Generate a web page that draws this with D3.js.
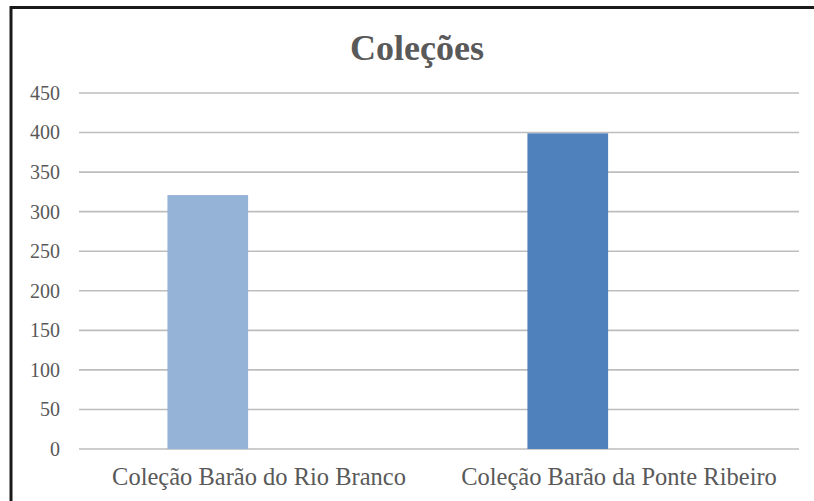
<!DOCTYPE html>
<html>
<head>
<meta charset="utf-8">
<script src="https://cdn.jsdelivr.net/npm/d3@7"></script>
<style>
  html, body { margin: 0; padding: 0; background: #fff; }
  svg { display: block; }
</style>
</head>
<body>
<svg id="chart" width="814" height="501"></svg>
<script>
// Chart data
const title = "Coleções";
const categories = ["Coleção Barão do Rio Branco", "Coleção Barão da Ponte Ribeiro"];
const values = [321, 399];
const barColors = ["#95b3d7", "#4f81bd"];
const seriesSlots = ["s1", "s2"];   // the second series slot is empty
const yTicks = [0, 50, 100, 150, 200, 250, 300, 350, 400, 450];

const svg = d3.select("#chart");
const W = 814, H = 501;
const margin = { left: 79, right: 15, top: 93, bottom: 52 };
const font = "'Liberation Serif', 'Times New Roman', serif";
const textColor = "#595959";

// Frame
svg.append("rect").attr("width", W).attr("height", H).attr("fill", "#fff");
svg.append("path")
  .attr("d", `M11,${H} L11,7.5 L${W},7.5`)
  .attr("fill", "none").attr("stroke", "#1a1a1a").attr("stroke-width", 3);

const x = d3.scaleBand()
  .domain(categories)
  .range([margin.left, W - margin.right])
  .padding(0);

// Slots inside each category: two bars with a small gap between them
const slot = d3.scaleBand()
  .domain(seriesSlots)
  .range([0, x.bandwidth()])
  .paddingInner(0.2126)
  .paddingOuter(0.863);

const y = d3.scaleLinear()
  .domain([0, 450])
  .range([H - margin.bottom, margin.top]);

// Gridlines
svg.append("g")
  .selectAll("line")
  .data(yTicks)
  .join("line")
  .attr("x1", margin.left).attr("x2", W - margin.right)
  .attr("y1", d => y(d)).attr("y2", d => y(d))
  .attr("stroke", "#bdbdbd").attr("stroke-width", 1.6);

// Y axis labels
const yAxis = d3.axisLeft(y).tickValues(yTicks).tickSize(0).tickPadding(0);
const gy = svg.append("g")
  .attr("transform", `translate(${margin.left - 19},0)`)
  .call(yAxis);
gy.select(".domain").remove();
gy.selectAll("text")
  .attr("font-family", font).attr("font-size", 20).attr("fill", textColor);

// Bars
svg.append("g")
  .selectAll("rect")
  .data(categories.map((c, i) => ({ c, v: values[i], color: barColors[i] })))
  .join("rect")
  .attr("x", d => x(d.c) + slot("s1"))
  .attr("width", slot.bandwidth())
  .attr("y", d => y(d.v))
  .attr("height", d => y(0) - y(d.v))
  .attr("fill", d => d.color);

// Category axis
const xAxis = d3.axisBottom(x).tickSize(0).tickPadding(0);
const gx = svg.append("g")
  .attr("transform", `translate(0,${y(0) + 19})`)
  .call(xAxis);
gx.select(".domain").remove();
gx.selectAll("text")
  .attr("font-family", font).attr("font-size", 24.5).attr("fill", textColor);

// Title
svg.append("text")
  .attr("x", 417).attr("y", 60)
  .attr("text-anchor", "middle")
  .attr("font-family", font).attr("font-size", 36).attr("font-weight", "bold")
  .attr("fill", textColor)
  .text(title);
</script>
</body>
</html>
